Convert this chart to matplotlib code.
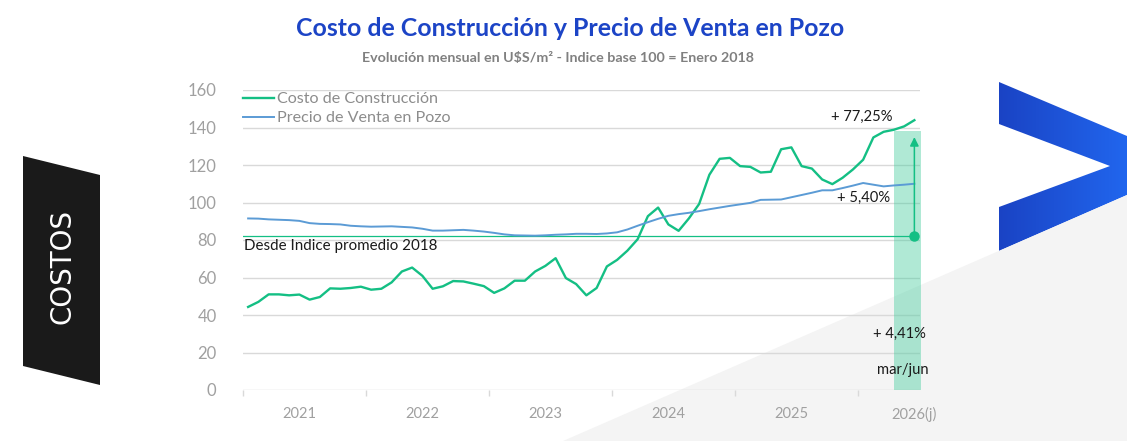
import matplotlib
matplotlib.use('Agg')
import matplotlib.pyplot as plt
from matplotlib.patches import Polygon, Rectangle
from matplotlib.colors import LinearSegmentedColormap
import numpy as np

plt.rcParams['font.family'] = ['Lato', 'DejaVu Sans']

# monthly index, jan 2021 .. jun 2026
costo = [44.3, 47.0, 51.0, 51.0, 50.5, 50.9, 48.2, 49.6, 54.2, 54.0, 54.4, 55.1,
         53.5, 54.0, 57.4, 63.2, 65.3, 60.9, 54.0, 55.3, 58.1, 57.9, 56.7, 55.4,
         51.8, 54.2, 58.3, 58.3, 63.2, 66.2, 70.3, 59.7, 56.5, 50.5, 54.4, 65.9,
         69.4, 74.3, 80.4, 92.7, 97.3, 88.3, 84.9, 91.5, 99.2, 114.8, 123.3, 123.8,
         119.4, 119.0, 116.0, 116.4, 128.4, 129.4, 119.4, 118.1, 112.3, 109.8, 113.2, 117.6,
         122.8, 134.7, 137.7, 138.8, 140.6, 143.9]
precio = [91.5, 91.4, 91.0, 90.8, 90.6, 90.2, 89.0, 88.6, 88.5, 88.3, 87.6, 87.3,
          87.1, 87.2, 87.3, 87.0, 86.7, 86.0, 85.0, 85.0, 85.2, 85.4, 85.0, 84.5,
          83.8, 83.0, 82.5, 82.4, 82.3, 82.5, 82.8, 83.0, 83.3, 83.3, 83.2, 83.5,
          84.1, 85.6, 87.6, 89.5, 91.3, 92.9, 93.8, 94.5, 95.4, 96.4, 97.3, 98.2,
          99.0, 99.8, 101.4, 101.5, 101.6, 102.8, 104.0, 105.2, 106.5, 106.5, 107.7, 109.0,
          110.4, 109.5, 108.6, 109.1, 109.5, 110.0]
years = ['2021', '2022', '2023', '2024', '2025', '2026(j)']
promedio_2018 = 82.4
band_top = 138.1
arrow_top = 134.9

green = '#14bf84'
blue = '#5b9bd5'
W, H = 1127, 441

fig = plt.figure(figsize=(W / 100, H / 100), dpi=100)

# background shapes in pixel coords
bg = fig.add_axes([0, 0, 1, 1], zorder=-1)
bg.set_xlim(0, W)
bg.set_ylim(H, 0)
bg.axis('off')
bg.add_patch(Polygon([(563, H), (W, 195), (W, H)], closed=True, fc='#f4f4f4', ec='none'))
bg.add_patch(Polygon([(23, 156), (100, 175), (100, 385), (23, 366)], closed=True, fc='#1a1a1a', ec='none'))
bg.text(62, 266, 'COSTOS', rotation=90, color='white', fontsize=20, ha='center', va='center',
        family='DejaVu Sans')
chev = Polygon([(999, 82), (W, 136), (W, 195), (999, 251), (999, 207), (1110, 166), (999, 124)],
               closed=True, fc='none', ec='none')
bg.add_patch(chev)
grad = np.linspace(0, 1, 256).reshape(1, -1)
cm = LinearSegmentedColormap.from_list('chev', ['#1a43c4', '#2166ee'])
im = bg.imshow(grad, extent=[999, W, 251, 82], cmap=cm, aspect='auto')
im.set_clip_path(chev)

fig.text(570 / W, 1 - 28 / H, 'Costo de Construcción y Precio de Venta en Pozo', ha='center', va='center',
         fontsize=17.9, fontweight='bold', color='#1c44c6')
fig.text(558 / W, 1 - 58 / H, 'Evolución mensual en U$S/m² - Indice base 100 = Enero 2018', ha='center',
         va='center', fontsize=10.3, fontweight='bold', color='#808080')

ax = fig.add_axes([243 / W, 1 - 390 / H, (919.5 - 243) / W, 300 / H])
ax.patch.set_alpha(0)
x = np.arange(len(costo))

ax.add_patch(Rectangle((63.0, 0), 2.65, band_top, fc='#3aca98', alpha=0.4, ec='none', clip_on=False, zorder=1))
ax.plot(x, costo, color=green, lw=1.7, label='Costo de Construcción', zorder=3)
ax.plot(x, precio, color=blue, lw=1.4, label='Precio de Venta en Pozo', zorder=3)
ax.plot([-0.5, x[-1]], [promedio_2018, promedio_2018], color=green, lw=0.9, zorder=2)
ax.plot(x[-1], promedio_2018, 'o', color=green, ms=6.5, zorder=4)
ax.annotate('', xy=(x[-1], arrow_top), xytext=(x[-1], promedio_2018),
            arrowprops=dict(arrowstyle='-|>', color=green, lw=1.1, mutation_scale=13, shrinkA=0, shrinkB=0),
            zorder=4)

ax.text(62.9, 145.4, '+ 77,25%', ha='right', va='center', fontsize=10.6, color='#1a1a1a')
ax.text(62.6, 102.2, '+ 5,40%', ha='right', va='center', fontsize=10.6, color='#1a1a1a')
ax.text(60.96, 29.7, '+ 4,41%', ha='left', va='center', fontsize=10.6, color='#1a1a1a')
ax.text(61.35, 10.7, 'mar/jun', ha='left', va='center', fontsize=10.6, color='#1a1a1a')
ax.text(-0.4, 77.0, 'Desde Indice promedio 2018', ha='left', va='center', fontsize=10.9, color='#1a1a1a')

ax.set_xlim(-0.5, 65.5)
ax.set_ylim(0, 160)
ax.set_yticks(range(0, 161, 20))
ax.yaxis.grid(True, color='#d9d9d9', lw=1)
ax.set_axisbelow(True)
ax.tick_params(axis='y', length=0, pad=19, labelsize=12, labelcolor='#a0a0a0')
ax.set_xticks(np.arange(-0.5, 60, 12))
ax.set_xticklabels([])
ax.tick_params(axis='x', which='major', length=4, color='#d9d9d9', width=1)
ax.set_xticks(np.arange(5, 66, 12), minor=True)
ax.set_xticklabels(years, minor=True)
ax.tick_params(axis='x', which='minor', length=0, pad=12, labelsize=10.5, labelcolor='#a0a0a0')
for s in ax.spines.values():
    s.set_visible(False)

ax.legend(loc='upper left', bbox_to_anchor=(243 / W, 1 - 92 / H), bbox_transform=fig.transFigure,
          frameon=False, fontsize=11.6, handlelength=1.9, handletextpad=0.2, labelspacing=0.3,
          borderpad=0, borderaxespad=0, labelcolor='#8c8c8c')

plt.savefig('out.png', dpi=100)
